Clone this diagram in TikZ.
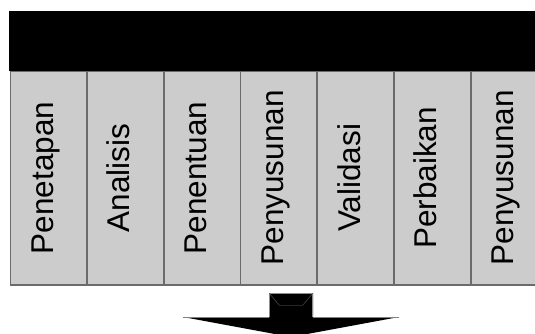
\documentclass[tikz,border=0pt]{standalone}
\usepackage{fontspec}
\setmainfont{Liberation Sans}
\usetikzlibrary{calc}
\begin{document}
\begin{tikzpicture}[x=1pt,y=-1pt,
  cell/.style={draw=black!58,line width=1.8pt,fill=black!20,minimum width=76.7pt,minimum height=214pt,inner sep=0pt,anchor=north west},
  lbl/.style={rotate=90,anchor=base,inner sep=0pt,font=\fontsize{31.5}{37}\selectfont},
  band/.style={fill=black,draw=none,minimum width=540pt,minimum height=60pt,inner sep=0pt,anchor=north west}]
\useasboundingbox (0,0) rectangle (535,333);
\clip (0,0) rectangle (535,333);
\fill[white] (0,0) rectangle (535,333);
\foreach \i/\t in {0/Penetapan,1/Analisis,2/Penentuan,3/Penyusunan,4/Validasi,5/Perbaikan,6/Penyusunan}{
  \node[cell] (c\i) at ({9.5+76.7*\i},70) {};
  \node[lbl] (t\i) at ($(c\i.center)+(4.5,0)$) {\t};
}
\node[band] (band) at (8.6,11) {};
% arrow
\fill[black] (269,293) -- (313,293) -- (313,317) -- (399,317) -- (291,337) -- (183,317) -- (269,317) -- cycle;
\draw[black!50,line width=0.7pt] (183,317) -- (269,317);
\draw[black!50,line width=0.7pt] (313,317) -- (399,317);
\draw[black!45,line width=0.8pt] (269.4,317) -- (269.4,293.4) -- (312.6,293.4) -- (312.6,317);
\draw[black!75,line width=0.7pt] (269.5,293.5) -- (279,305);
\draw[black!75,line width=0.7pt] (312.5,293.5) -- (303,305);
\draw[black!85,line width=0.5pt] (279,305) -- (303,305);
\end{tikzpicture}
\end{document}
